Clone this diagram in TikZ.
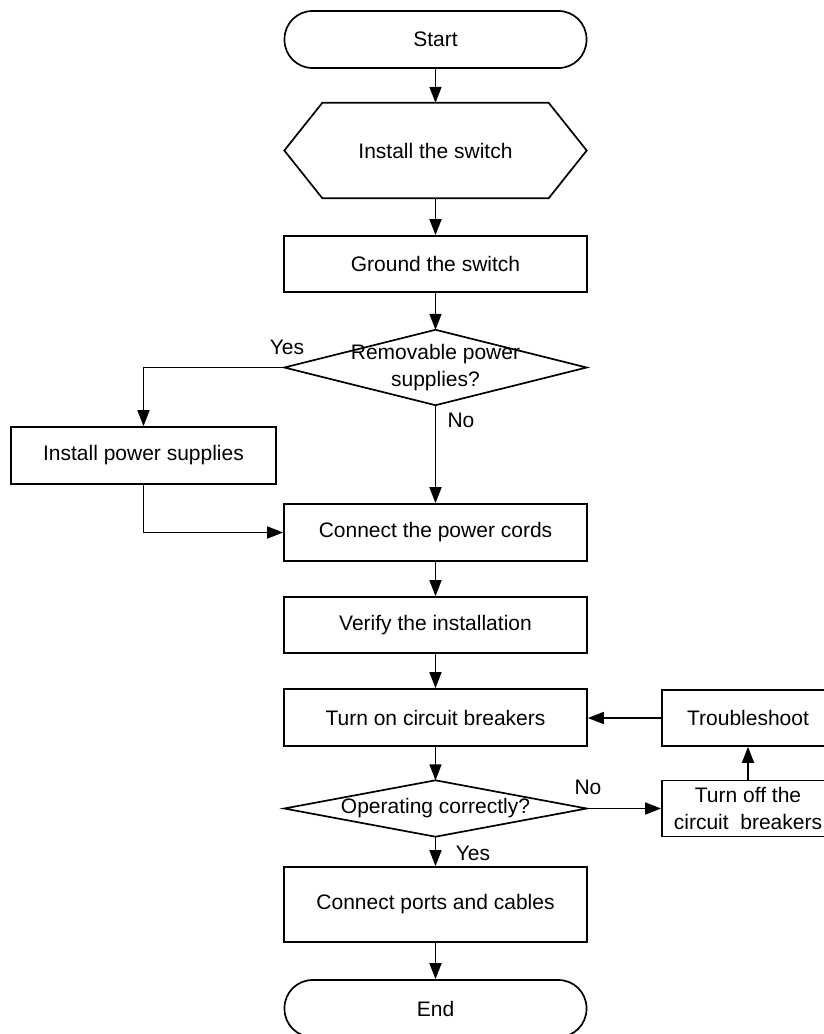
\documentclass[tikz,border=0pt]{standalone}
\usepackage{fontspec}
\setmainfont{Liberation Sans}
\usetikzlibrary{arrows.meta}
\begin{document}
\begin{tikzpicture}[x=1pt,y=-1pt,
  every node/.style={font=\fontsize{21}{27}\selectfont, align=center, inner sep=0pt},
  box/.style={draw, line width=1.7pt, rectangle, minimum height=57pt, minimum width=303pt},
  sidebox/.style={draw, line width=1.7pt, rectangle, minimum height=56pt, minimum width=172pt},
  term/.style={draw, line width=1.7pt, rectangle, rounded corners=28pt, minimum height=57pt, minimum width=302pt},
  ghost/.style={rectangle, minimum width=302pt},
  shp/.style={line width=1.7pt},
  arr/.style={line width=1.7pt, -{Triangle[length=16pt,width=12pt]}},
  lbl/.style={font=\fontsize{21}{27}\selectfont}]
\useasboundingbox (0,0) rectangle (824,1034);
% nodes
\node[term] (start) at (435.5,39.5) {Start};
\node[ghost, minimum height=95pt] (hex) at (435.5,150.5) {Install the switch};
\draw[shp] (hex.west) -- ([xshift=38pt]hex.north west) -- ([xshift=-38pt]hex.north east) -- (hex.east) -- ([xshift=-38pt]hex.south east) -- ([xshift=38pt]hex.south west) -- cycle;
\node[box, minimum height=56pt] (ground) at (435.5,264) {Ground the switch};
\node[ghost, minimum height=75pt] (d1) at (435.5,367.5) {Removable power\\supplies?};
\draw[shp] (d1.west) -- (d1.north) -- (d1.east) -- (d1.south) -- cycle;
\node[box, minimum width=265pt] (ips) at (143.5,455.5) {Install power supplies};
\node[box] (cords) at (435.5,532.5) {Connect the power cords};
\node[box, minimum height=56pt] (verify) at (435.5,625) {Verify the installation};
\node[box] (turnon) at (435.5,717.5) {Turn on circuit breakers};
\node[sidebox] (trouble) at (748,718) {Troubleshoot};
\node[ghost, minimum height=56pt] (d2) at (435.5,808.5) {Operating correctly?};
\draw[shp] (d2.west) -- (d2.north) -- (d2.east) -- (d2.south) -- cycle;
\node[sidebox] (toff) at (748,808.5) {Turn off the\\circuit\ \ breakers};
\node[box, minimum height=75pt] (ports) at (435.5,904.5) {Connect ports and cables};
\node[term] (end) at (435.5,1008.5) {End};
% labels
\node[lbl] (yes1) at (287,347) {Yes};
\node[lbl] (no1) at (461,420) {No};
\node[lbl] (no2) at (588,787) {No};
\node[lbl] (yes2) at (473,853) {Yes};
% connectors
\draw[arr] (start.south) -- (hex.north);
\draw[arr] (hex.south) -- (ground.north);
\draw[arr] (ground.south) -- (d1.north);
\draw[arr] (d1.west) -| (ips.north);
\draw[arr] (d1.south) -- (cords.north);
\draw[arr] (ips.south) |- (cords.west);
\draw[arr] (cords.south) -- (verify.north);
\draw[arr] (verify.south) -- (turnon.north);
\draw[arr] (turnon.south) -- (d2.north);
\draw[arr] (d2.east) -- (toff.west);
\draw[arr] (toff.north) -- (trouble.south);
\draw[arr] (trouble.west) -- (trouble.west -| turnon.east);
\draw[arr] (d2.south) -- (ports.north);
\draw[arr] (ports.south) -- (end.north);
\end{tikzpicture}
\end{document}
